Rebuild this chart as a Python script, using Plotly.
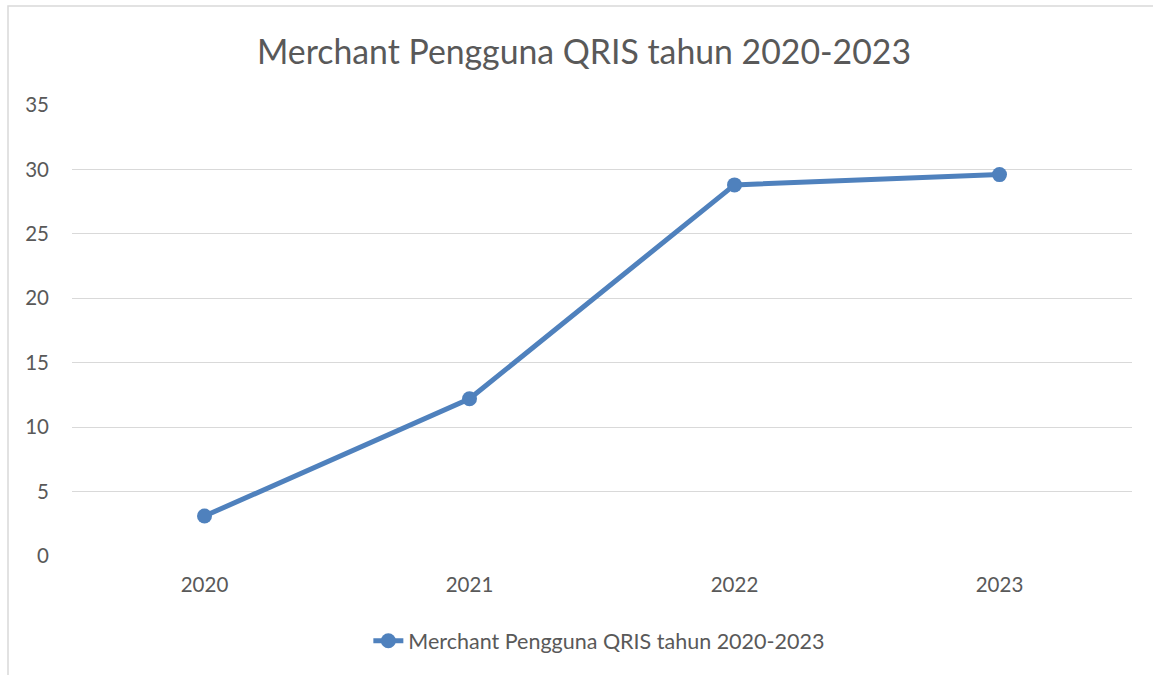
import plotly.graph_objects as go

years = ["2020", "2021", "2022", "2023"]
merchants = [3.1, 12.2, 28.8, 29.6]
series_name = "Merchant Pengguna QRIS tahun 2020-2023"
title_text = "Merchant Pengguna QRIS tahun 2020-2023"
y_ticks = [0, 5, 10, 15, 20, 25, 30, 35]

color = "#4f81bd"
txt = "#595959"
font_family = "Lato, Carlito, Calibri, 'Open Sans', sans-serif"

fig = go.Figure()
fig.add_trace(go.Scatter(
    x=years, y=merchants, name=series_name, mode="lines+markers",
    line=dict(color=color, width=5),
    marker=dict(color=color, size=15),
))

fig.update_layout(
    width=1153, height=675,
    margin=dict(l=72, r=21, t=105, b=119),
    paper_bgcolor="white", plot_bgcolor="white",
    font=dict(family=font_family, color=txt, size=20.5),
    title=dict(text=title_text, x=584 / 1153, xref="container", xanchor="center",
               y=1 - 52 / 675, yref="container", yanchor="middle",
               font=dict(size=33.8, color=txt, family=font_family)),
    showlegend=True,
    legend=dict(orientation="h", x=0.4975, xanchor="center", y=-0.188, yanchor="middle",
                font=dict(size=21.5, color=txt)),
    xaxis=dict(type="category", range=[-0.5, 3.5], showgrid=False, zeroline=False,
               showline=False, ticks="", ticklabelstandoff=14,
               tickfont=dict(size=20.5, color=txt)),
    yaxis=dict(range=[0, 35], tickvals=y_ticks, showgrid=True, gridcolor="#d9d9d9",
               gridwidth=1, zeroline=False, showline=False, ticks="",
               ticklabelstandoff=22, tickfont=dict(size=20.5, color=txt)),
    shapes=[dict(type="rect", xref="paper", yref="paper",
                 x0=(8 - 72) / 1060, x1=1.05, y0=-0.3, y1=(556 - 6) / 451,
                 line=dict(color="#d9d9d9", width=1.5), fillcolor="rgba(0,0,0,0)",
                 layer="below")],
)

fig.write_html("out.html", config={"displayModeBar": False},
               post_script="document.body.style.margin='0';")
